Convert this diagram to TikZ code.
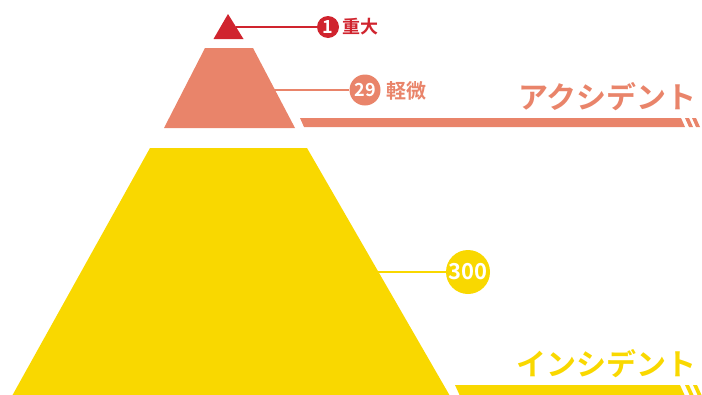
\documentclass[tikz,border=0pt]{standalone}
\usepackage{fontspec}
\newfontfamily\jp{Noto Sans CJK JP}[BoldFont={Noto Sans CJK JP Bold}]
\definecolor{cred}{HTML}{D0242E}
\definecolor{csal}{HTML}{E9846A}
\definecolor{cyel}{HTML}{F9D800}
\begin{document}
\begin{tikzpicture}[x=1pt,y=-1pt,
  lead/.style={line width=2pt},
  badge/.style={circle,inner sep=0pt,text=white,font=\jp\bfseries},
  lab/.style={anchor=west,inner sep=0pt,font=\jp\bfseries},
  title/.style={anchor=east,inner sep=0pt,font=\jp\bfseries\fontsize{30}{30}\selectfont}]
\useasboundingbox (0,0) rectangle (702,394);
% pyramid levels
\fill[cred] (228,14) -- (243.5,39) -- (213.5,39) -- cycle;
\fill[csal] (205,48) -- (253,48) -- (295,128) -- (164,128) -- cycle;
\fill[cyel] (150,148) -- (307,148) -- (450,396) -- (12,396) -- cycle;
% connector start points on right edges
\coordinate (e1) at (236,27);
\coordinate (e2) at (274,90);
\coordinate (e3) at (378,272);
% badges
\node[badge,fill=cred,minimum size=22pt,font=\jp\bfseries\fontsize{18}{18}\selectfont] (b1) at (328,27) {1};
\node[badge,fill=csal,minimum size=31pt,font=\jp\bfseries\fontsize{18}{18}\selectfont] (b2) at (365,90) {29};
\node[badge,fill=cyel,minimum size=44pt,font=\jp\bfseries\fontsize{22}{22}\selectfont] (b3) at (468,272) {300};
\draw[lead,cred] (e1) -- (b1);
\draw[lead,csal] (e2) -- (b2);
\draw[lead,cyel] (e3) -- (b3);
% labels
\node[lab,text=cred,font=\jp\bfseries\fontsize{18}{18}\selectfont] (l1) at (342,27) {重大};
\node[lab,text=csal,font=\jp\bfseries\fontsize{20}{20}\selectfont] (l2) at (386,91) {軽微};
% titles
\node[title,text=csal] (t1) at (697,97) {アクシデント};
\node[title,text=cyel] (t2) at (697,364) {インシデント};
% bars
\fill[csal] (300,118) -- (681,118) -- (685,127) -- (304,127) -- cycle;
\fill[csal] (685,118) -- (689,118) -- (693,127) -- (689,127) -- cycle;
\fill[csal] (692,118) -- (696,118) -- (700,127) -- (696,127) -- cycle;
\fill[cyel] (455,385) -- (680,385) -- (685,396) -- (460,396) -- cycle;
\fill[cyel] (685,385) -- (689,385) -- (694,396) -- (690,396) -- cycle;
\fill[cyel] (693,385) -- (697,385) -- (702,396) -- (698,396) -- cycle;
\end{tikzpicture}
\end{document}
